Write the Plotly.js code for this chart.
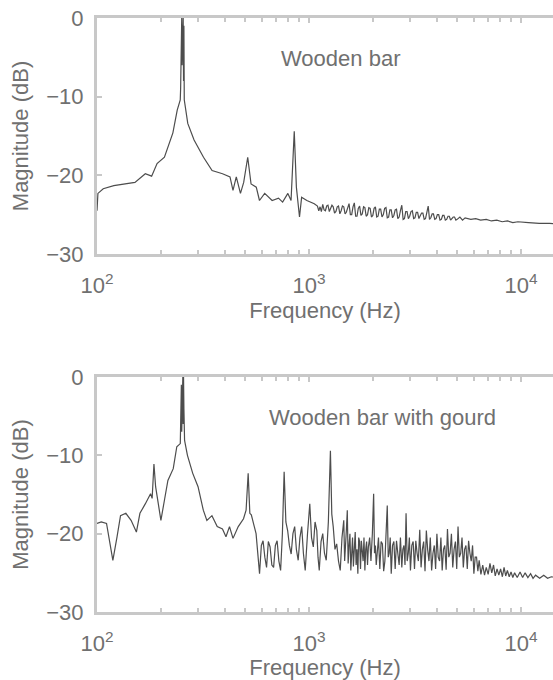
<!DOCTYPE html>
<html>
<head>
<meta charset="utf-8">
<script src="https://cdn.plot.ly/plotly-3.0.1.min.js"></script>
<style>html,body{margin:0;padding:0;background:#fff;}#chart{width:553px;height:680px;}</style>
</head>
<body>
<div id="chart"></div>
<script>
// Wooden bar spectrum: frequency (Hz) and magnitude (dB)
var barFreq = [
100,101,107,120,151,169,181,192,208,228,
239,247,248,249,250,251,252,253,254,255,
256,257,258,268,287,318,349,391,424,438,
454,475,492,514,533,564,584,618,670,718,
751,795,823,852,872,902,923,977,1059,1096,
1112,1128,1144,1161,1178,1195,1212,1229,1247,1265,
1283,1301,1320,1340,1359,1378,1398,1418,1438,1459,
1480,1500,1522,1545,1567,1590,1613,1636,1660,1684,
1708,1733,1758,1783,1809,1835,1861,1888,1915,1943,
1971,2000,2028,2057,2087,2117,2147,2178,2210,2242,
2274,2307,2340,2374,2408,2443,2478,2514,2550,2587,
2624,2662,2700,2740,2780,2820,2860,2901,2943,2985,
3028,3072,3116,3161,3207,3253,3300,3348,3396,3445,
3495,3545,3597,3650,3702,3755,3810,3864,3920,3975,
4032,4090,4150,4210,4270,4333,4396,4460,4525,4590,
4655,4720,4790,4860,4930,5000,5150,5300,5451,5800,
6114,6450,6857,7250,7690,8150,8625,9150,9674,10850,
12200,13650,15300];
var barDb = [
-24.5,-22.3,-21.7,-21.3,-20.9,-19.8,-20.1,-18.5,-17.7,-14.6,
-11.7,-10.4,-9,-1,-7,0,-6,0,-5,0,
-8,-1,-10.4,-13.4,-15.5,-17.7,-19.4,-19.8,-20.2,-21.9,
-20.2,-22.3,-20.9,-17.7,-21.1,-21.5,-23.2,-22.3,-23.2,-22.9,
-23.4,-22.3,-23.2,-14.4,-21.5,-25.3,-22.8,-23.2,-23.6,-23.9,
-24.5,-24.0,-24.6,-23.7,-24.4,-24.5,-23.9,-23.8,-24.6,-24.2,
-23.8,-24.0,-24.8,-24.6,-24.0,-23.9,-24.9,-24.5,-23.9,-24.0,
-24.9,-24.7,-24.0,-23.6,-25.0,-25.0,-24.0,-23.5,-25.2,-25.2,
-24.2,-23.9,-25.1,-24.9,-24.0,-24.1,-25.2,-25.0,-24.1,-24.2,
-25.3,-25.1,-24.2,-24.0,-25.3,-25.2,-24.3,-24.3,-25.3,-25.0,
-24.2,-24.1,-25.4,-25.3,-24.4,-24.4,-25.4,-25.1,-24.4,-24.3,
-25.5,-25.3,-24.5,-23.8,-25.6,-25.5,-24.6,-24.6,-25.5,-25.2,
-24.6,-24.5,-25.5,-25.4,-24.7,-24.7,-25.5,-25.2,-24.8,-24.8,
-25.6,-25.5,-24.6,-23.9,-25.6,-25.4,-24.9,-24.9,-25.6,-25.5,
-25.0,-25.0,-25.7,-25.6,-25.1,-25.1,-25.7,-25.6,-25.2,-25.2,
-25.7,-25.5,-25.3,-25.3,-25.7,-25.6,-25.3,-25.7,-25.4,-25.6,
-25.5,-25.7,-25.6,-25.8,-25.7,-25.9,-25.8,-26.0,-25.9,-26.0,
-26.1,-26.1,-26.2];

// Wooden bar with gourd spectrum: frequency (Hz) and magnitude (dB)
var gourdFreq = [
100,104.7,110.9,118.8,124.3,129.1,136.8,144.8,153.4,159.4,
168.9,178.9,182,185.6,189,192.8,200.2,208.1,216,228.9,
237.9,247.1,248,249,250,251,252,253,254,255,
256,257,258.9,267.1,282.9,299.7,317.3,329.8,348.5,369,
390.7,405.9,421.7,438.1,463.8,491.1,505,516.5,526,534.5,
562.8,584.4,596,607.2,619,630.8,643,655.3,668,680.9,
694,707.4,721,734.8,749,763.4,778,793.1,808,824,
840,856,872,889.3,906,923.9,941,959.8,984,1008.6,
1028,1047.9,1068,1088.6,1103,1118,1140,1161,1183,1206,
1234,1262,1281,1301,1326,1351,1378,1404,1431,1459,
1473,1487,1501,1516,1530,1545,1560,1575,1590,1605,
1620,1636,1652,1668,1684,1700,1716,1733,1750,1766,
1783,1800,1817,1835,1852,1870,1888,1906,1933,1960,
1990,2018,2037,2057,2076,2096,2127,2158,2189,2220,
2250,2280,2310,2340,2365,2390,2416,2443,2478,2514,
2550,2587,2624,2662,2700,2740,2772,2805,2837,2870,
2905,2940,2975,3010,3055,3100,3145,3190,3235,3280,
3330,3378,3426,3475,3526,3577,3628,3680,3734,3788,
3844,3900,3956,4012,4070,4130,4190,4249,4310,4370,
4435,4500,4565,4630,4697,4766,4835,4905,4976,5047,
5120,5195,5270,5345,5422,5500,5580,5660,5742,5825,
5910,5995,6080,6170,6260,6349,6470,6600,6730,6857,
7000,7140,7280,7422,7560,7710,7860,8013,8170,8320,
8470,8625,8800,8975,9150,9330,9600,9900,10180,10460,
10780,11100,11400,11720,12250,12800,13350,13900,14800];
var gourdDb = [
-18.7,-18.5,-18.7,-23.4,-20.4,-17.7,-17.4,-18.3,-19.8,-17.4,
-16.2,-14.9,-15.5,-11.1,-14.0,-15.3,-18.3,-15.7,-13.2,-11.7,
-8.9,-8.5,-2,-8,-1,-7,0,-5,0,-6,
0,-4,-8.1,-10,-12.3,-14,-17,-18.3,-17.7,-19.1,
-19.4,-20.4,-19.1,-20.6,-19.1,-18.1,-17.0,-12.3,-17.4,-17.6,
-20,-25.1,-21.5,-20.9,-23.0,-24.3,-21.0,-21.7,-24.0,-24.3,
-21.5,-20.9,-23.5,-24.7,-20.0,-12.1,-18.5,-19.6,-21.5,-22.6,
-20.0,-19.1,-22.0,-23.4,-20.5,-19.1,-22.5,-24.7,-20.0,-16.2,
-20.5,-21.7,-18.5,-19.6,-23.0,-24.7,-21.0,-20.0,-22.5,-23.4,
-18.5,-9.4,-17.5,-19.1,-22.0,-21.3,-23.5,-24.7,-20.5,-18.3,
-23.5,-22.0,-19.5,-17.0,-23.8,-21.5,-20.0,-24.7,-21.0,-20.5,
-24.2,-21.7,-19.8,-24.0,-22.0,-25.1,-20.5,-21.0,-24.5,-20.9,
-22.0,-23.5,-20.5,-24.7,-22.0,-21.0,-24.0,-21.7,-20.5,-23.5,
-20.0,-14.9,-22.5,-21.5,-24.0,-22.6,-20.5,-24.5,-21.0,-21.3,
-24.8,-23.5,-20.0,-16.4,-23.0,-22.5,-20.5,-25.1,-21.5,-21.0,
-24.5,-20.9,-22.5,-24.0,-20.5,-24.3,-22.0,-21.5,-24.0,-17.4,
-23.5,-22.5,-20.5,-24.7,-21.5,-21.0,-24.5,-20.9,-22.5,-23.5,
-19.5,-24.3,-22.0,-21.0,-24.8,-19.6,-22.0,-23.5,-20.5,-24.7,
-22.5,-21.5,-24.5,-20.0,-23.0,-23.5,-20.5,-24.7,-22.0,-21.5,
-24.6,-19.4,-23.0,-22.5,-20.0,-24.3,-22.0,-21.0,-24.5,-19.1,
-23.0,-22.5,-20.5,-24.3,-22.0,-21.5,-24.5,-20.9,-22.5,-23.5,
-21.5,-25.1,-23.0,-23.0,-24.8,-23.4,-25.2,-24.0,-25.3,-24.3,
-25.2,-23.8,-25.0,-24.0,-25.4,-24.5,-25.3,-24.5,-25.5,-24.3,
-25.4,-24.7,-25.5,-24.9,-25.6,-25.0,-25.6,-24.9,-25.6,-25.0,
-25.6,-25.1,-25.7,-25.3,-25.7,-25.3,-25.7,-25.5,-25.6];

var panelTitles = ['Wooden bar', 'Wooden bar with gourd'];
var xTickVals = [100, 1000, 10000];
var xTickText = ['10<sup>2</sup>', '10<sup>3</sup>', '10<sup>4</sup>'];
var xMinorVals = [200,300,400,500,600,700,800,900,2000,3000,4000,5000,6000,7000,8000,9000];
var yTickVals = [-30, -20, -10, 0];

var txt = '#707070', axc = '#c8c8c8', lineC = '#4d4d4d';
var font = {family: 'Liberation Sans, Arial, sans-serif', size: 22, color: txt};

function xax(anchor) {
  return {
    type: 'log', range: [2, 4.151], anchor: anchor,
    tickmode: 'array', tickvals: xTickVals, ticktext: xTickText,
    ticks: 'inside', ticklen: 5, tickwidth: 2, tickcolor: axc,
    minor: {tickmode: 'array', tickvals: xMinorVals, ticks: 'inside', ticklen: 4, tickwidth: 2, tickcolor: axc},
    showline: true, linecolor: axc, linewidth: 3, mirror: 'ticks',
    showgrid: false, zeroline: false,
    tickfont: font, ticklabelstandoff: 10,
    title: {text: 'Frequency (Hz)', font: font, standoff: 4}
  };
}
function yax(anchor, dom) {
  return {
    range: [-30, 0], domain: dom, anchor: anchor,
    tickmode: 'array', tickvals: yTickVals,
    ticks: 'inside', ticklen: 5, tickwidth: 2, tickcolor: axc,
    showline: true, linecolor: axc, linewidth: 3, mirror: false,
    showgrid: false, zeroline: false,
    tickfont: font, ticklabelstandoff: 6,
    title: {text: 'Magnitude (dB)', font: font, standoff: 12}
  };
}

var traces = [
  {x: barFreq, y: barDb, xaxis: 'x', yaxis: 'y', type: 'scatter', mode: 'lines', line: {color: lineC, width: 1.2}, hoverinfo: 'skip'},
  {x: gourdFreq, y: gourdDb, xaxis: 'x2', yaxis: 'y2', type: 'scatter', mode: 'lines', line: {color: lineC, width: 1.2}, hoverinfo: 'skip'}
];

var layout = {
  width: 553, height: 680,
  margin: {l: 97, r: 0, t: 18, b: 68},
  paper_bgcolor: '#fff', plot_bgcolor: '#fff',
  showlegend: false,
  font: font,
  xaxis: xax('y'),
  yaxis: yax('x', [0.6027, 1]),
  xaxis2: xax('y2'),
  yaxis2: yax('x2', [0, 0.3956]),
  annotations: [
    {text: panelTitles[0], xref: 'paper', yref: 'paper', x: 0.533, y: 0.931, xanchor: 'center', yanchor: 'middle', showarrow: false, font: font},
    {text: panelTitles[1], xref: 'paper', yref: 'paper', x: 0.626, y: 0.327, xanchor: 'center', yanchor: 'middle', showarrow: false, font: font}
  ]
};

Plotly.newPlot('chart', traces, layout, {staticPlot: true, displayModeBar: false});
</script>
</body>
</html>
